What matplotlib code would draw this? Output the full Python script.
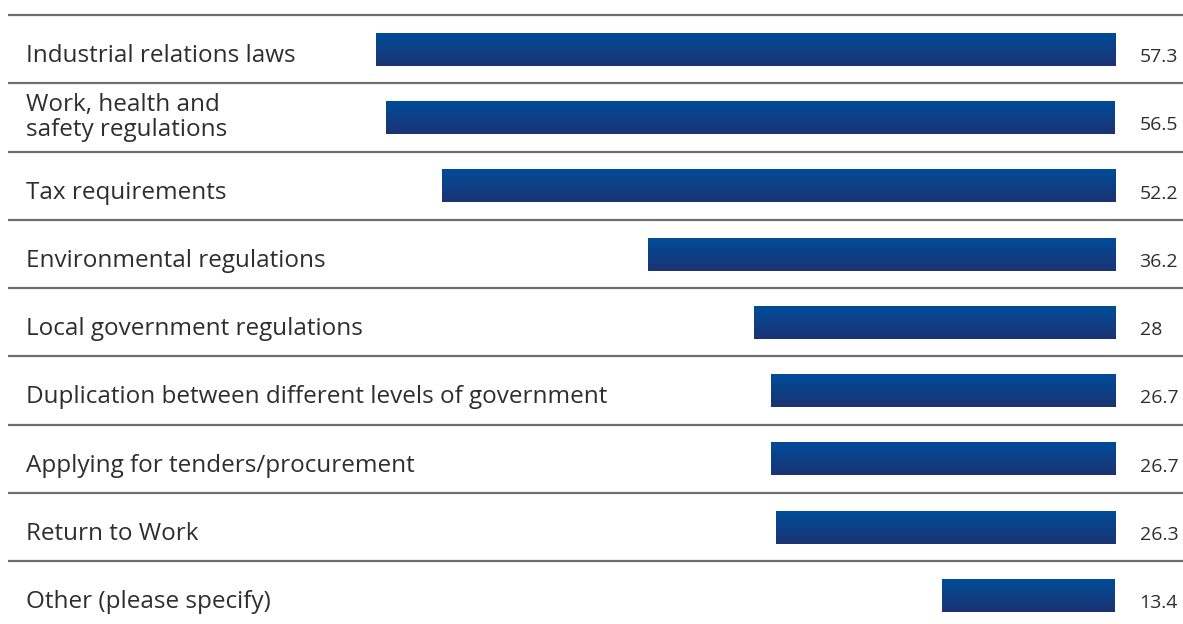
import numpy as np
import matplotlib
matplotlib.use("Agg")
import matplotlib.pyplot as plt
from matplotlib.colors import LinearSegmentedColormap

categories = [
    "Industrial relations laws",
    "Work, health and\nsafety regulations",
    "Tax requirements",
    "Environmental regulations",
    "Local government regulations",
    "Duplication between different levels of government",
    "Applying for tenders/procurement",
    "Return to Work",
    "Other (please specify)",
]
values = [57.3, 56.5, 52.2, 36.2, 28, 26.7, 26.7, 26.3, 13.4]
value_labels = ["57.3", "56.5", "52.2", "36.2", "28", "26.7", "26.7", "26.3", "13.4"]

plt.rcParams["font.family"] = ["Open Sans", "DejaVu Sans"]

fig = plt.figure(figsize=(11.83, 6.24), dpi=100)
ax = fig.add_axes([0, 0, 1, 1])

# bars grow leftwards from a common right edge
xlim = (86.43, -5.27)
ylim = (8.423, -0.72)
row_px = 68.25
bar_h = 0.47

grad = LinearSegmentedColormap.from_list("bar", ["#004c99", "#1b3373"])
g = np.linspace(0, 1, 64).reshape(-1, 1)

y = np.arange(len(categories)) + 0.01
bars = ax.barh(y, values, height=bar_h, color="none", edgecolor="none")
for b in bars:
    x0, y0 = b.get_x(), b.get_y()
    ax.imshow(g, cmap=grad, aspect="auto", interpolation="bilinear",
              extent=[x0, x0 + b.get_width(), y0 + b.get_height(), y0], zorder=2)

# row separators
bounds = np.arange(len(categories)) - 0.5
ax.hlines(bounds, 85.8, -5.27, color="#6e6e6e", lw=1.6, zorder=1)

for i, (cat, lab) in enumerate(zip(categories, value_labels)):
    lines = cat.split("\n")
    if len(lines) == 1:
        base = [13]
    else:
        base = [-6, 19]
    for ln, off in zip(lines, base):
        ax.text(84.4, i + off / row_px, ln, ha="left", va="baseline",
                fontsize=17.5, color="#2e2e2e")
    ax.text(-1.9, i + 13 / row_px, lab, ha="left", va="baseline",
            fontsize=14, color="#2e2e2e")

ax.set_xlim(*xlim)
ax.set_ylim(*ylim)
ax.axis("off")

fig.savefig("out.png", dpi=100)
